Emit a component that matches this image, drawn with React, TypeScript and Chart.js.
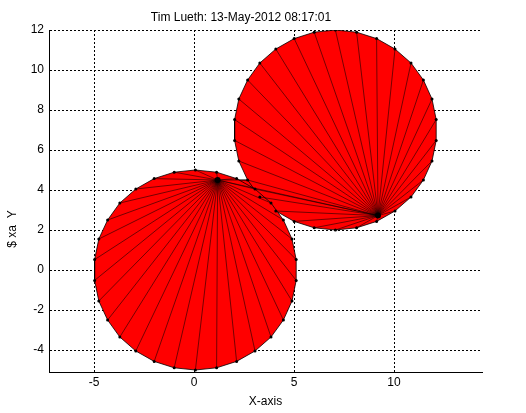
import React, { useEffect, useRef } from "react";
import { Chart, registerables } from "chart.js";

Chart.register(...registerables);

const FONT = "'Liberation Sans', Arial, Helvetica, sans-serif";

const titleText = "Tim Lueth: 13-May-2012 08:17:01";
const xAxisLabel = "X-axis";
const yAxisLabel = "$ xa  Y";

const xTicks = [-5, 0, 5, 10];
const yTicks = [-4, -2, 0, 2, 4, 6, 8, 10, 12];
const xRange = [-7.25, 14.4];
const yRange = [-5.1, 12];

// circle 1 polygon vertices (30 points)
const circle1X = [0.07, 1.13, 2.13, 3.05, 3.85, 4.47, 4.9, 5.11, 5.11, 4.9, 4.47, 3.85, 3.05, 2.13, 1.13, 0.07, -0.99, -1.99, -2.91, -3.71, -4.32, -4.76, -4.97, -4.97, -4.76, -4.32, -3.71, -2.91, -1.99, -0.99];
const circle1Y = [-5, -4.89, -4.57, -4.05, -3.35, -2.5, -1.55, -0.52, 0.52, 1.55, 2.5, 3.35, 4.05, 4.57, 4.89, 5, 4.89, 4.57, 4.05, 3.35, 2.5, 1.55, 0.52, -0.52, -1.55, -2.5, -3.35, -4.05, -4.57, -4.89];

// circle 2 polygon vertices (30 points)
const circle2X = [7.07, 8.13, 9.13, 10.05, 10.85, 11.47, 11.9, 12.11, 12.11, 11.9, 11.47, 10.85, 10.05, 9.13, 8.13, 7.07, 6.01, 5.01, 4.09, 3.29, 2.68, 2.24, 2.03, 2.03, 2.24, 2.68, 3.29, 4.09, 5.01, 6.01];
const circle2Y = [2, 2.11, 2.43, 2.95, 3.65, 4.5, 5.45, 6.48, 7.52, 8.55, 9.5, 10.35, 11.05, 11.57, 11.89, 12, 11.89, 11.57, 11.05, 10.35, 9.5, 8.55, 7.52, 6.48, 5.45, 4.5, 3.65, 2.95, 2.43, 2.11];

// fan centres
const apexX = [1.18, 9.2];
const apexY = [4.5, 2.72];

// thin bridge between the two fans
const bridgeX = [1.18, 2.68, 9.2, 3.05];
const bridgeY = [4.5, 4.5, 2.72, 4.05];

type P = { x: number | null; y: number | null };

const toPts = (xs: number[], ys: number[]): P[] => xs.map((x, i) => ({ x, y: ys[i] }));
const closed = (pts: P[]): P[] => [...pts, pts[0]];
const spokes = (ax: number, ay: number, pts: P[]): P[] => {
  const out: P[] = [];
  pts.forEach((p) => {
    out.push({ x: ax, y: ay }, p, { x: null, y: null });
  });
  return out;
};

const yLabelPlugin = {
  id: "yLabelPlugin",
  afterDraw(chart: any) {
    const { ctx, chartArea } = chart;
    const ys = chart.scales.y;
    ctx.save();
    ctx.translate(ys.left + 12.5, (chartArea.top + chartArea.bottom) / 2 + 28);
    ctx.rotate(-Math.PI / 2);
    ctx.font = `12px ${FONT}`;
    ctx.fillStyle = "#000";
    ctx.textAlign = "center";
    ctx.textBaseline = "middle";
    ctx.fillText(yAxisLabel, 0, 0);
    ctx.restore();
  },
};

export default function App() {
  const ref = useRef<HTMLCanvasElement | null>(null);

  useEffect(() => {
    if (!ref.current) return;
    const c1 = toPts(circle1X, circle1Y);
    const c2 = toPts(circle2X, circle2Y);
    const br = toPts(bridgeX, bridgeY);
    const apexPts = toPts(apexX, apexY);

    const spokeData: P[] = [
      ...spokes(apexX[0], apexY[0], c1),
      ...spokes(apexX[1], apexY[1], c2),
      ...spokes(apexX[0], apexY[0], [apexPts[1], br[1]]),
      ...spokes(apexX[1], apexY[1], [br[3]]),
    ];

    const polyStyle = {
      showLine: true,
      fill: "shape",
      backgroundColor: "#ff0000",
      borderColor: "#000000",
      borderWidth: 0.8,
      pointRadius: 0,
      pointHoverRadius: 0,
    };

    const chart = new Chart(ref.current, {
      type: "scatter",
      data: {
        datasets: [
          {
            label: "apex",
            data: apexPts,
            pointRadius: 3,
            pointBackgroundColor: "#000",
            pointBorderWidth: 0,
            showLine: false,
          },
          {
            label: "vertices",
            data: [...c1, ...c2],
            pointRadius: 1.5,
            pointBackgroundColor: "#000",
            pointBorderWidth: 0,
            showLine: false,
          },
          {
            label: "edges",
            data: spokeData,
            showLine: true,
            spanGaps: false,
            borderColor: "rgba(0,0,0,0.9)",
            borderWidth: 0.6,
            pointRadius: 0,
            fill: false,
          },
          { label: "circle1", data: closed(c1), ...polyStyle },
          { label: "circle2", data: closed(c2), ...polyStyle },
          { label: "bridge", data: closed(br), ...polyStyle },
        ] as any,
      },
      options: {
        animation: false,
        responsive: false,
        events: [],
        layout: { padding: { left: 0, right: 44, top: 0, bottom: 0 } },
        plugins: {
          legend: { display: false },
          tooltip: { enabled: false },
          title: {
            display: true,
            text: titleText,
            color: "#000",
            font: { family: FONT, size: 12, weight: "normal" },
            padding: { top: 10.5, bottom: 5.1 },
          },
        },
        scales: {
          x: {
            type: "linear",
            min: xRange[0],
            max: xRange[1],
            afterBuildTicks: (s: any) => {
              s.ticks = xTicks.map((v) => ({ value: v }));
            },
            afterFit: (s: any) => {
              s.height = 41;
            },
            ticks: {
              color: "#000",
              font: { family: FONT, size: 12 },
              padding: 3,
              includeBounds: false,
            },
            grid: { color: "#000", lineWidth: 1, drawTicks: false },
            border: { display: true, color: "#000", width: 1, dash: [2, 2] },
            title: {
              display: true,
              text: xAxisLabel,
              color: "#000",
              font: { family: FONT, size: 12 },
              padding: { top: 0, bottom: 4 },
            },
          },
          y: {
            type: "linear",
            min: yRange[0],
            max: yRange[1],
            afterBuildTicks: (s: any) => {
              s.ticks = yTicks.map((v) => ({ value: v }));
            },
            afterFit: (s: any) => {
              s.width = 49;
            },
            ticks: {
              color: "#000",
              font: { family: FONT, size: 12 },
              padding: 5,
              includeBounds: false,
            },
            grid: { color: "#000", lineWidth: 1, drawTicks: false },
            border: { display: true, color: "#000", width: 1, dash: [2, 2] },
          },
        },
      } as any,
      plugins: [yLabelPlugin],
    });
    return () => chart.destroy();
  }, []);

  return (
    <div style={{ position: "fixed", left: 0, top: 0, width: 526, height: 413, background: "#fff" }}>
      <canvas ref={ref} width={526} height={413} />
    </div>
  );
}
